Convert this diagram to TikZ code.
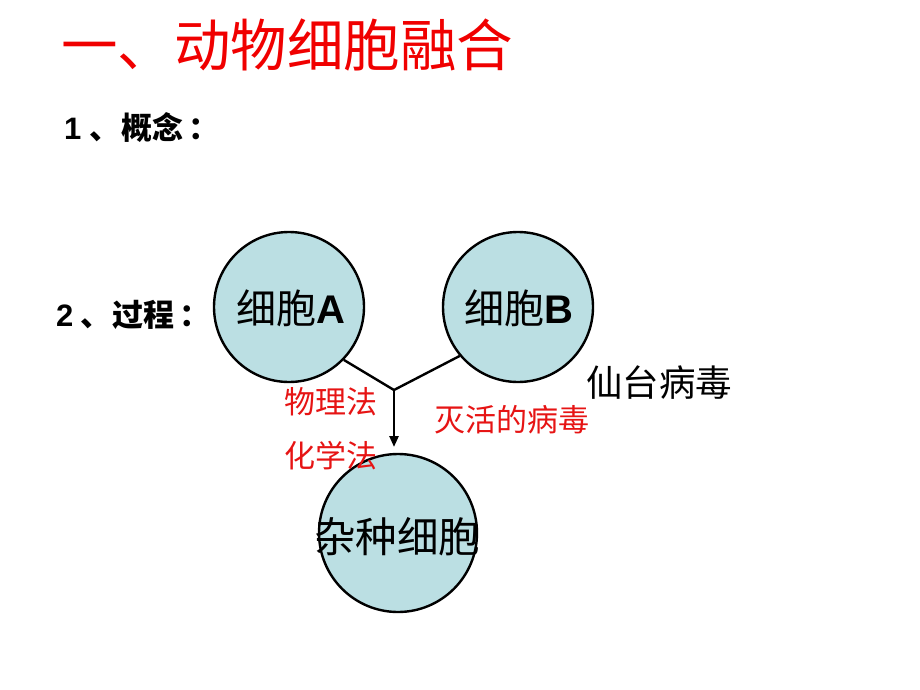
\documentclass[tikz,border=0pt]{standalone}
\usepackage{fontspec}
\setmainfont{Liberation Sans}
\newfontfamily\cjk{Noto Sans CJK SC}
\usetikzlibrary{arrows.meta}
\definecolor{cellfill}{RGB}{187,223,227}
\definecolor{titlered}{RGB}{240,0,0}
\definecolor{labelred}{RGB}{230,20,20}
\tikzset{
  cell/.style={circle,draw=black,line width=2.4pt,fill=cellfill,inner sep=0pt},
  conn/.style={line width=2.4pt,draw=black},
  txt/.style={anchor=west,inner sep=0pt},
}
\begin{document}
\begin{tikzpicture}[x=1pt,y=-1pt]
\useasboundingbox (0,0) rectangle (920,690);
\node[txt,text=titlered] (title) at (61,45) {\fontsize{56.5}{60}\selectfont\cjk 一、动物细胞融合};
\node[txt] (c1) at (64,128) {\fontsize{31}{34}\selectfont\bfseries 1\hspace{8pt}{\cjk 、}\hspace{1pt}{\cjk 概念}\hspace{5pt}{\cjk ：}};
\node[txt] (c2) at (56,315) {\fontsize{31}{34}\selectfont\bfseries 2\hspace{7pt}{\cjk 、}\hspace{1pt}{\cjk 过程}\hspace{5pt}{\cjk ：}};
\node[cell,minimum size=150pt] (A) at (289,307) {};
\node[cell,minimum size=150pt] (B) at (518,307) {};
\node[cell,minimum size=158pt] (H) at (398,533) {};
\node (At) at (291,308) {\fontsize{40}{44}\selectfont{\cjk 细胞}\bfseries A};
\node (Bt) at (519,308) {\fontsize{40}{44}\selectfont{\cjk 细胞}\bfseries B};
\node (Ht) at (397,537) {\fontsize{41.5}{46}\selectfont\cjk 杂种细胞};
\coordinate (j) at (394,390);
\coordinate (e) at (394,447);
\draw[conn] (A.-44) -- (j);
\draw[conn] (B.-140) -- (j);
\draw[conn,-{Triangle[width=9pt,length=11pt]}] (j) -- (e);
\node[txt] (virus) at (586,383) {\fontsize{36.5}{40}\selectfont\cjk 仙台病毒};
\node[txt,text=labelred] (phys) at (284,402) {\fontsize{31}{34}\selectfont\cjk 物理法};
\node[txt,text=labelred] (chem) at (284,456) {\fontsize{31}{34}\selectfont\cjk 化学法};
\node[txt,text=labelred] (inact) at (434,420) {\fontsize{31}{34}\selectfont\cjk 灭活的病毒};
\end{tikzpicture}
\end{document}
